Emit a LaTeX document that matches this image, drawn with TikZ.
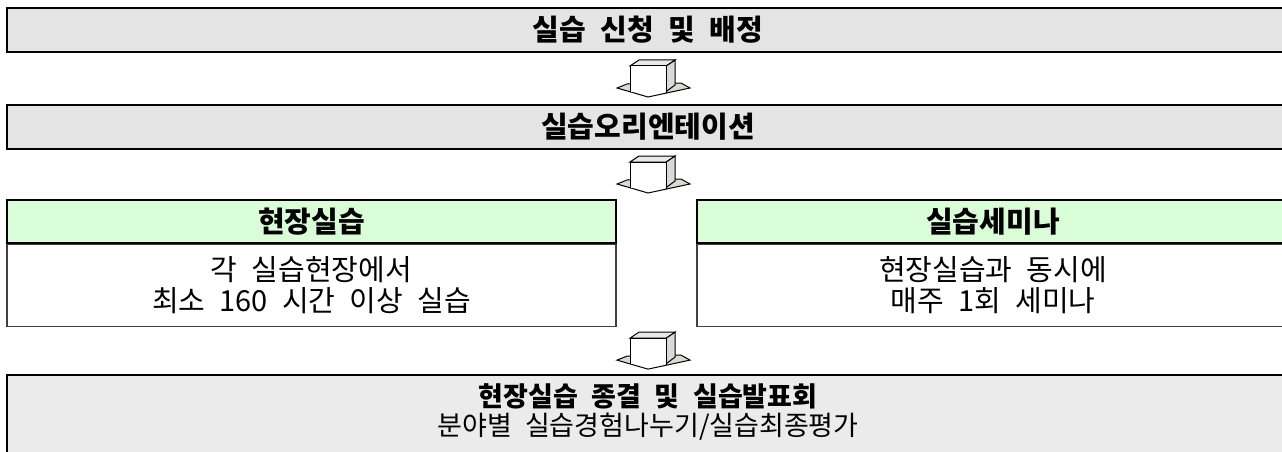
\documentclass[tikz,border=0pt]{standalone}
\usepackage{fontspec}
\setmainfont{Noto Sans CJK KR}[WordSpace=2.2]
\usetikzlibrary{positioning,calc}

\definecolor{stagegray}{RGB}{228,228,228}
\definecolor{lastgray}{RGB}{235,235,235}
\definecolor{headgreen}{RGB}{217,253,215}
\definecolor{facegray}{RGB}{214,219,214}

\tikzset{
  stagebox/.style={draw=black,line width=1.5pt,fill=stagegray,inner sep=0pt,
    minimum width=1282,minimum height=44,font=\fontsize{29}{31}\selectfont\bfseries},
  headbox/.style={draw=black,line width=1.5pt,fill=headgreen,inner sep=0pt,
    minimum height=43,font=\fontsize{29}{31}\selectfont\bfseries},
  notebox/.style={draw=black!75,line width=1.5pt,fill=white,inner sep=0pt,align=center,
    minimum height=82,font=\fontsize{29}{31}\selectfont},
  lastbox/.style={draw=black,line width=1.5pt,fill=lastgray,inner sep=0pt,
    minimum width=1282,minimum height=90},
  lastline/.style={inner sep=0pt,text height=19pt,text depth=4pt},
  blockarrow/.pic={
    \fill[facegray] (-31,9.5) -- (0,18.5) -- (42,9.5) -- (33,4.5) -- (-21,5.5) -- cycle;
    \fill[white] (-18,5) -- (-18,13.3) -- (0,18.5) -- (18,14.6) -- (18,5) -- cycle;
    \draw[line width=1pt] (-31,9.5) -- (0,18.5) -- (42,9.5) -- (33,4.5) -- (-21,5.5) -- cycle;
    \draw[line width=1pt,fill=facegray] (18,-12.5) -- (27,-18.5) -- (27,6.5) -- (18,13.2) -- cycle;
    \draw[line width=1pt,fill=facegray!60] (-18,-12.5) -- (-9,-18.5) -- (27,-18.5) -- (18,-12.5) -- cycle;
    \fill[white] (-18,-12.5) rectangle (18,13.3);
    \draw[line width=1pt] (-18,13.3) -- (-18,-12.5) -- (18,-12.5) -- (18,14.6);
  }
}

\begin{document}
\begin{tikzpicture}[x=1pt,y=-1pt]

\useasboundingbox (0,0) rectangle (1282,452);
\clip (0,0) rectangle (1282,452);

\node [stagebox] at (648,30) (apply) {실습 신청 및 배정};
\node [stagebox] at (648,127) (orient) {실습오리엔테이션};

\node [headbox,minimum width=609] at (311.5,221.5) (field) {현장실습};
\node [notebox,minimum width=609,anchor=north] at (field.south) (fieldnote)
  {각 실습현장에서\\최소 160 시간 이상 실습};

\node [headbox,minimum width=592] at (993,221.5) (semi) {실습세미나};
\node [notebox,minimum width=592,anchor=north] at (semi.south) (seminote)
  {현장실습과 동시에\\매주 1회 세미나};

\node [lastbox,anchor=north] at (648,374) (final) {};
\node [lastline,font=\fontsize{27}{31}\selectfont\bfseries] at ([yshift=-25pt]final.north) (finaltitle)
  {현장실습 종결 및 실습발표회};
\node [lastline,font=\fontsize{27}{31}\selectfont] at ([yshift=-54pt]final.north) (finalnote)
  {분야별 실습경험나누기/실습최종평가};

% block arrows between the stages
\pic at ($(apply.south)!0.5!(orient.north)$) {blockarrow};
\pic at ($(orient.south)!0.5!(orient.south |- field.north)$) {blockarrow};
\pic at ($(final.north)!0.5!(final.north |- fieldnote.south)$) {blockarrow};

\end{tikzpicture}
\end{document}
